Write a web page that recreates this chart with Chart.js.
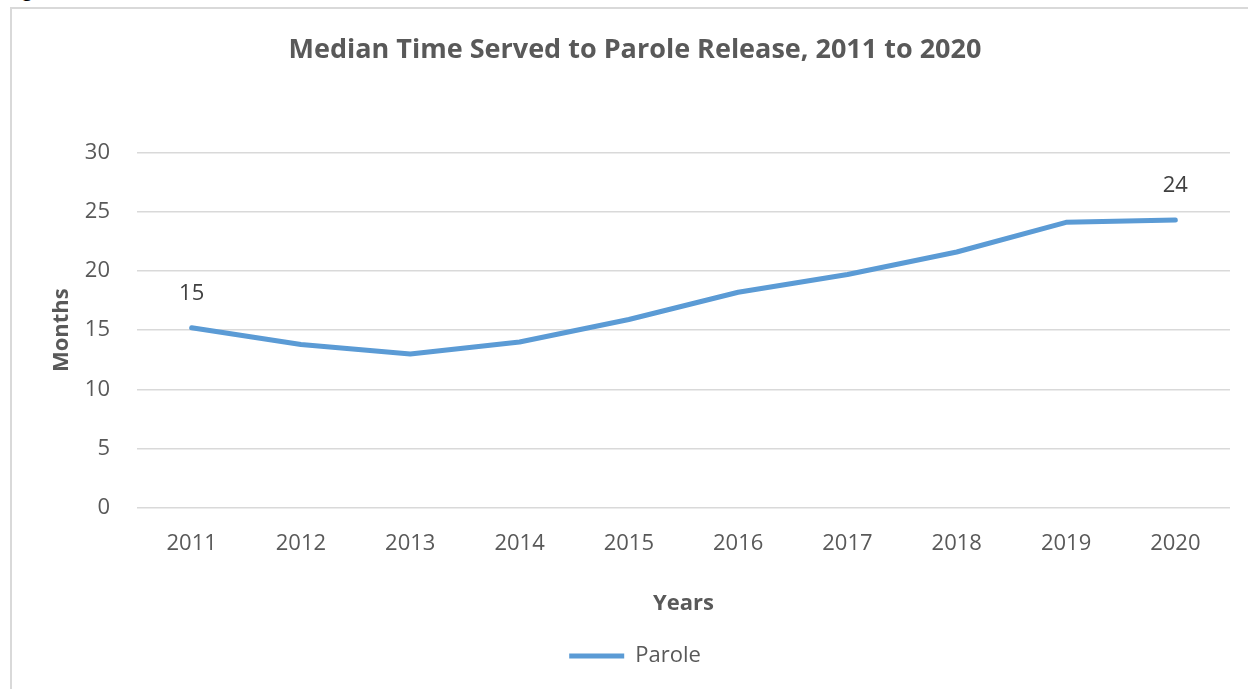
<!DOCTYPE html>
<html>
<head>
<meta charset="UTF-8">
<title>Median Time Served to Parole Release</title>
<script src="https://cdn.jsdelivr.net/npm/chart.js@4.4.1/dist/chart.umd.min.js"></script>
<style>
 body{ margin:0; background:#fff; overflow:hidden; }
 .fig_label{
    position:absolute; left:8px; top:-21px;
    font-family:"Open Sans",sans-serif; font-weight:bold; font-size:17px; color:#000;
 }
 .chart_box{
    position:absolute; left:10px; top:7px;
    width:1240px; height:684px;
    border-left:2px solid #d9d9d9; border-top:2px solid #d9d9d9;
 }
</style>
</head>
<body>

<div class="fig_label">Figure 6</div>
<div class="chart_box">
  <canvas id="canvas" width="1238" height="682"></canvas>
</div>

<script>
// data
var years = ["2011","2012","2013","2014","2015","2016","2017","2018","2019","2020"];
var parole = [15.2, 13.8, 13.0, 14.0, 15.9, 18.2, 19.7, 21.6, 24.1, 24.3];
var shownLabels = {0:"15", 9:"24"};

var grey = '#595959';
var fontName = '"Open Sans", sans-serif';

// draws the two value labels above the line
var pointLabels = {
    id:'pointLabels',
    afterDatasetsDraw: function(chart){
        var ctx = chart.ctx;
        var meta = chart.getDatasetMeta(0);
        ctx.save();
        ctx.font = '22px ' + fontName;
        ctx.fillStyle = '#404040';
        ctx.textAlign = 'center';
        ctx.textBaseline = 'middle';
        for (var i in shownLabels){
            var pt = meta.data[i];
            ctx.fillText(shownLabels[i], pt.x, pt.y - 34);
        }
        ctx.restore();
    }
};

var ctx = document.getElementById("canvas").getContext("2d");
window.myLine = new Chart(ctx, {
    type:'line',
    data:{
        labels: years,
        datasets:[{
            label:'Parole',
            data: parole,
            borderColor:'#5b9bd5',
            backgroundColor:'#5b9bd5',
            borderWidth:5,
            borderCapStyle:'round',
            borderJoinStyle:'round',
            pointRadius:0,
            pointHoverRadius:0,
            tension:0,
            fill:false
        }]
    },
    options:{
        responsive:false,
        animation:false,
        layout:{ padding:{ left:28, right:20, top:0, bottom:14 } },
        plugins:{
            title:{
                display:true,
                text:'Median Time Served to Parole Release, 2011 to 2020',
                color:grey,
                font:{ family:fontName, size:27, weight:'bold' },
                padding:{ top:25, bottom:86 }
            },
            legend:{
                position:'bottom',
                labels:{
                    usePointStyle:true,
                    pointStyle:'line',
                    pointStyleWidth:55,
                    color:grey,
                    font:{ family:fontName, size:22 },
                    padding:10
                }
            },
            tooltip:{ enabled:false }
        },
        scales:{
            x:{
                offset:true,
                grid:{ display:false, drawTicks:false },
                border:{ display:false },
                ticks:{ color:grey, font:{ family:fontName, size:22 }, padding:23, maxRotation:0 },
                title:{
                    display:true, text:'Years', color:grey,
                    font:{ family:fontName, size:22, weight:'bold' },
                    padding:{ top:10, bottom:18 }
                },
                afterFit:function(s){ s.height = 127; }
            },
            y:{
                min:0, max:30,
                grid:{ color:'#d9d9d9', lineWidth:1.5, drawTicks:false },
                border:{ display:false },
                ticks:{ stepSize:5, color:grey, font:{ family:fontName, size:22 }, padding:27 },
                title:{
                    display:true, text:'Months', color:grey,
                    font:{ family:fontName, size:22, weight:'bold' },
                    padding:{ top:9, bottom:0 }
                },
                afterFit:function(s){ s.width = 97; }
            }
        }
    },
    plugins:[pointLabels]
});
</script>
</body>
</html>
